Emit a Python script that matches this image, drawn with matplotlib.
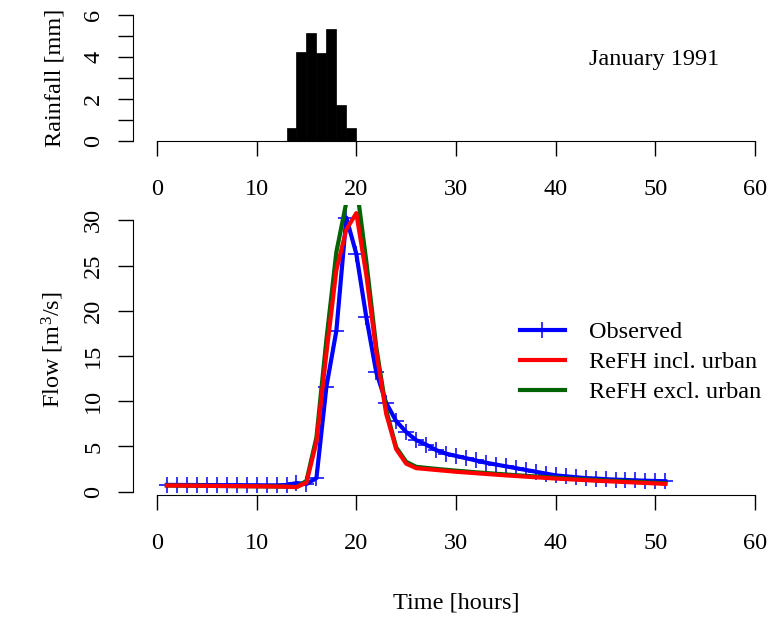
import numpy as np
import matplotlib
matplotlib.use('Agg')
import matplotlib.pyplot as plt
from matplotlib.lines import Line2D

plt.rcParams['font.family'] = ['Liberation Serif', 'DejaVu Serif']
plt.rcParams['mathtext.fontset'] = 'custom'
plt.rcParams['mathtext.rm'] = 'Liberation Serif'
plt.rcParams['mathtext.it'] = 'Liberation Serif:italic'
FS = 17.5
LW = 3.0

# Rainfall (hourly blocks, left edge of hour)
rain_hours = [13, 14, 15, 16, 17, 18, 19]
rain_mm = [0.6, 4.25, 5.15, 4.2, 5.35, 1.7, 0.6]

# Flow series
hours = np.arange(1, 52)
observed = [0.75, 0.74, 0.74, 0.73, 0.73, 0.72, 0.72, 0.72, 0.71, 0.71, 0.70, 0.70,
            0.74, 0.95, 0.85, 1.5, 11.6, 17.8, 30.3, 26.3, 19.3, 13.2, 9.8, 7.8,
            6.6, 5.7, 5.2, 4.6, 4.2, 3.95, 3.7, 3.45, 3.2, 3.0, 2.8, 2.6,
            2.4, 2.2, 2.0, 1.8, 1.7, 1.6, 1.5, 1.45, 1.38, 1.33, 1.29, 1.25,
            1.21, 1.18, 1.15]
refh_urban = [0.68, 0.67, 0.66, 0.65, 0.64, 0.63, 0.62, 0.61, 0.60, 0.59, 0.58, 0.57,
              0.55, 0.50, 1.0, 5.5, 15.3, 24.5, 29.0, 30.8, 24.0, 15.5, 8.6, 4.7,
              3.1, 2.6, 2.5, 2.4, 2.3, 2.2, 2.12, 2.04, 1.96, 1.88, 1.8, 1.73,
              1.66, 1.59, 1.52, 1.45, 1.39, 1.33, 1.27, 1.21, 1.16, 1.11, 1.06, 1.01,
              0.96, 0.91, 0.86]
refh_rural = [0.68, 0.67, 0.66, 0.65, 0.64, 0.63, 0.62, 0.61, 0.60, 0.59, 0.58, 0.57,
              0.55, 0.50, 1.2, 6.0, 16.8, 26.5, 32.0, 34.0, 25.5, 16.0, 9.0, 4.9,
              3.3, 2.75, 2.63, 2.52, 2.42, 2.32, 2.23, 2.14, 2.06, 1.98, 1.9, 1.82,
              1.75, 1.68, 1.61, 1.54, 1.47, 1.41, 1.35, 1.29, 1.23, 1.18, 1.13, 1.08,
              1.03, 0.98, 0.93]

W, H = 776, 618
fig = plt.figure(figsize=(W / 100, H / 100), dpi=100)

def frac(l, t, r, b):
    return [l / W, (H - b) / H, (r - l) / W, (b - t) / H]

# Top panel: rainfall
ax1 = fig.add_axes(frac(133, 15.3, 779, 140.7))
ax1.bar(rain_hours, rain_mm, width=1.0, align='edge', color='black', edgecolor='black', linewidth=0.5)
ax1.set_xlim(-2.4, 62.4)
ax1.set_ylim(0, 6)
ax1.set_yticks(range(0, 7))
ax1.set_yticklabels(['0', '', '2', '', '4', '', '6'])
ax1.set_xticks(range(0, 61, 10))
ax1.set_ylabel('Rainfall [mm]', fontsize=FS)
ax1.text((654 - 133) / 646, 0.65, 'January 1991', transform=ax1.transAxes, fontsize=FS,
         ha='center', va='center')

# Bottom panel: flow
ax2 = fig.add_axes(frac(133, 205, 779, 495))
ax2.plot(hours, observed, color='blue', lw=LW, marker='+', ms=11, mew=1.1, label='Observed')
ax2.plot(hours, refh_rural, color='darkgreen', lw=LW, label='ReFH excl. urban')
ax2.plot(hours, refh_urban, color='red', lw=LW, label='ReFH incl. urban')
ax2.set_xlim(-2.4, 62.4)
ax2.set_ylim(-0.37, 31.7)
ax2.set_xticks(range(0, 61, 10))
ax2.set_yticks(range(0, 31, 5))
ax2.set_xlabel('Time [hours]', fontsize=FS)
ax2.set_ylabel('Flow [m$^3$/s]', fontsize=FS)

handles = [Line2D([], [], color='blue', lw=LW, marker='+', ms=11, mew=1.1),
           Line2D([], [], color='red', lw=LW),
           Line2D([], [], color='darkgreen', lw=LW)]
ax2.legend(handles, ['Observed', 'ReFH incl. urban', 'ReFH excl. urban'],
           loc='upper left', bbox_to_anchor=(520 / W, (H - 321) / H),
           bbox_transform=fig.transFigure, frameon=False, fontsize=FS,
           handlelength=1.85, handletextpad=1.0, labelspacing=0.33, borderpad=0, borderaxespad=0)

for ax, ylo, yhi in [(ax1, 0, 6), (ax2, 0, 30)]:
    for s in ['top', 'right']:
        ax.spines[s].set_visible(False)
    ax.spines['left'].set_bounds(ylo, yhi)
    ax.spines['bottom'].set_bounds(0, 60)
    ax.tick_params(axis='both', direction='out', length=10.8, width=1, labelsize=FS)
    ax.tick_params(axis='x', pad=16.5)
    ax.tick_params(axis='y', pad=10, labelrotation=90)
    for lab in ax.get_yticklabels():
        lab.set_va('center')
    ax.yaxis.set_label_coords((66 - 133) / 646, 0.5)

ax2.xaxis.set_label_coords(0.5, -(593 - 495) / 290)

fig.savefig('out.png', dpi=100)
